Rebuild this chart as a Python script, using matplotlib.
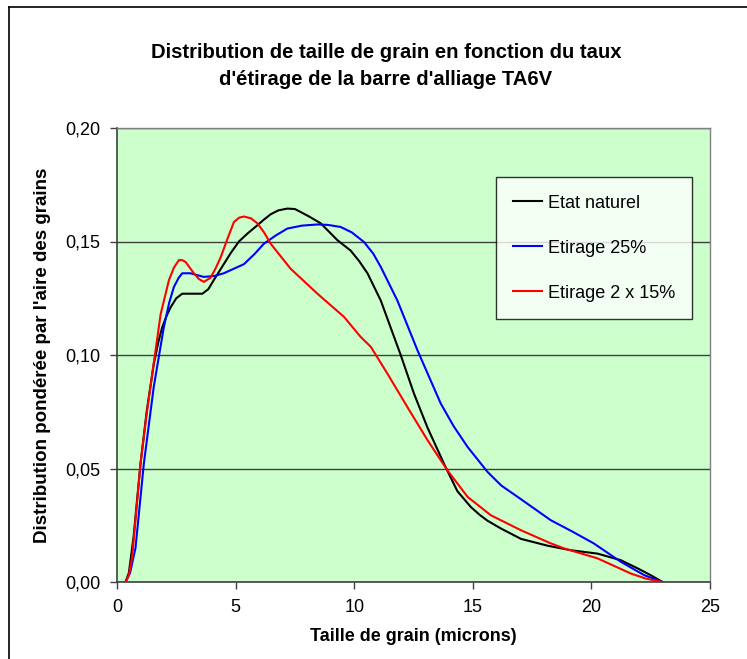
import matplotlib
matplotlib.use("Agg")
import matplotlib.pyplot as plt

plt.rcParams['font.family'] = ['Liberation Sans', 'DejaVu Sans']

# Etat naturel
x_nat = [0.36, 0.5, 0.7, 0.99, 1.25, 1.55, 1.75, 1.9, 2.08, 2.26, 2.5, 2.75, 3.1, 3.6, 3.85, 4.08,
         4.5, 4.8, 5.14, 5.5, 5.9, 6.2, 6.48, 6.8, 7.18, 7.5, 7.74, 8.1, 8.59, 9.29, 9.85, 10.2,
         10.56, 11.12, 11.54, 11.96, 12.52, 13.09, 13.79, 14.35, 14.92, 15.3, 15.62, 16.18,
         17.03, 18.15, 19.13, 20.26, 21.24, 21.95, 22.5, 23.0]
y_nat = [0.0, 0.004, 0.02, 0.052, 0.075, 0.096, 0.106, 0.112, 0.117, 0.121, 0.125, 0.127,
         0.127, 0.127, 0.129, 0.133, 0.140, 0.145, 0.150, 0.1535, 0.157, 0.1597, 0.162, 0.1637,
         0.1645, 0.1643, 0.163, 0.161, 0.158, 0.1506, 0.146, 0.1415, 0.136, 0.124, 0.112, 0.100,
         0.083, 0.068, 0.052, 0.040, 0.033, 0.0295, 0.027, 0.0236, 0.019, 0.016, 0.014, 0.0125,
         0.0096, 0.006, 0.003, 0.0]

# Etirage 25%
x_25 = [0.36, 0.55, 0.78, 1.13, 1.55, 1.97, 2.2, 2.4, 2.6, 2.75, 3.1, 3.66, 4.1, 4.5, 5.35,
        5.8, 6.19, 6.7, 7.18, 7.8, 8.45, 8.9, 9.43, 9.9, 10.41, 10.8, 11.12, 11.82, 12.67,
        13.65, 14.2, 14.78, 15.62, 16.2, 16.89, 18.29, 19.2, 20.1, 21.24, 22.23, 23.0]
y_25 = [0.0, 0.004, 0.015, 0.052, 0.086, 0.112, 0.123, 0.130, 0.134, 0.136, 0.136, 0.1344,
        0.1348, 0.136, 0.140, 0.1445, 0.149, 0.1527, 0.1557, 0.157, 0.1575, 0.1573, 0.1564,
        0.154, 0.1498, 0.1447, 0.1388, 0.124, 0.102, 0.0786, 0.0685, 0.0595, 0.0485, 0.0425,
        0.0375, 0.0272, 0.0222, 0.017, 0.0089, 0.003, 0.0]

# Etirage 2 x 15%
x_15 = [0.36, 0.5, 0.64, 0.99, 1.25, 1.49, 1.84, 2.19, 2.4, 2.61, 2.75, 2.89, 3.24, 3.45,
        3.66, 3.94, 4.15, 4.37, 4.65, 4.93, 5.15, 5.35, 5.65, 5.92, 6.2, 6.48, 7.32, 8.45,
        9.57, 10.27, 10.7, 11.4, 12.24, 13.09, 13.93, 14.78, 15.76, 17.03, 18.29, 18.85,
        20.26, 21.67, 22.3, 23.0]
y_15 = [0.0, 0.003, 0.011, 0.052, 0.074, 0.092, 0.118, 0.133, 0.1385, 0.1418, 0.1418, 0.141,
        0.136, 0.1335, 0.1322, 0.134, 0.138, 0.143, 0.151, 0.1586, 0.1605, 0.161, 0.1602,
        0.158, 0.154, 0.149, 0.138, 0.127, 0.1168, 0.108, 0.1036, 0.0918, 0.0771, 0.0625,
        0.0492, 0.0375, 0.0294, 0.0228, 0.017, 0.0148, 0.0104, 0.0037, 0.0015, 0.0]

labels = ["Etat naturel", "Etirage 25%", "Etirage 2 x 15%"]
colors = ["black", "#0000FF", "#FF0000"]

xticks = [0, 5, 10, 15, 20, 25]
yticks = [0.00, 0.05, 0.10, 0.15, 0.20]
ytick_labels = ["0,00", "0,05", "0,10", "0,15", "0,20"]

fig = plt.figure(figsize=(7.47, 6.59), dpi=100)
ax = fig.add_axes([117/747, 1 - 582/659, (710-117)/747, (582-128)/659])
ax.set_facecolor("#CCFFCC")

for xs, ys, c, lab in zip([x_nat, x_25, x_15], [y_nat, y_25, y_15], colors, labels):
    ax.plot(xs, ys, color=c, lw=1.5, label=lab, zorder=3, solid_joinstyle='round')

ax.set_xlim(0, 25)
ax.set_ylim(0, 0.20)
ax.set_xticks(xticks)
ax.set_xticklabels([str(v) for v in xticks], fontsize=13)
ax.set_yticks(yticks)
ax.set_yticklabels(ytick_labels, fontsize=13)
ax.yaxis.grid(True, color="#404040", lw=1.0, zorder=1)
ax.set_axisbelow(True)
ax.tick_params(axis='both', direction='out', length=5, color="#404040", width=1, pad=7)

for s in ['left', 'bottom']:
    ax.spines[s].set_color("#404040")
    ax.spines[s].set_linewidth(1.2)
for s in ['right', 'top']:
    ax.spines[s].set_color("#808080")
    ax.spines[s].set_linewidth(1.0)

ax.set_xlabel("Taille de grain (microns)", fontsize=13, fontweight='bold', labelpad=9)
ax.set_ylabel("Distribution pondérée par l'aire des grains", fontsize=13.5, fontweight='bold', labelpad=10)

fig.text(386/747, 1 - 66/659, "Distribution de taille de grain en fonction du taux\nd'étirage de la barre d'alliage TA6V",
         ha='center', va='center', fontsize=14.6, fontweight='bold', linespacing=1.5)

leg = ax.legend(loc='upper left', bbox_to_anchor=(0.6386, 0.891), frameon=True, fancybox=False,
                edgecolor='black', fontsize=13, handlelength=1.6, labelspacing=1.55,
                borderpad=0.95, handletextpad=0.35, borderaxespad=0)
leg.get_frame().set_linewidth(1.0)
leg.set_zorder(5)

# figure border (left and top edges visible)
fig.add_artist(plt.Line2D([9/747, 9/747], [0, 1 - 7/659], transform=fig.transFigure, color='black', lw=1.2))
fig.add_artist(plt.Line2D([9/747, 1], [1 - 7/659, 1 - 7/659], transform=fig.transFigure, color='black', lw=1.2))

fig.savefig("out.png", dpi=100)
